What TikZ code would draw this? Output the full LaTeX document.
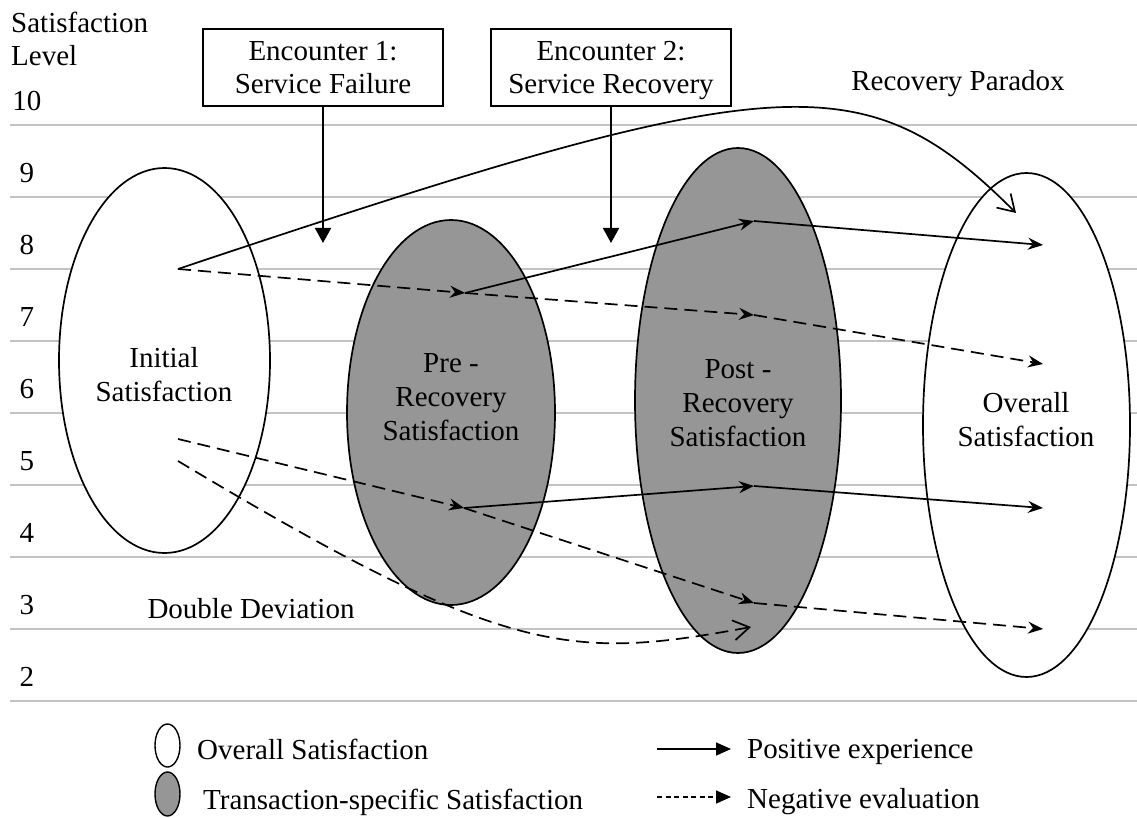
\documentclass[tikz,border=0pt]{standalone}
\usepackage{fontspec}
\setmainfont{Liberation Serif}
\usetikzlibrary{shapes.geometric,arrows.meta}
\definecolor{gridgray}{RGB}{195,195,195}
\definecolor{ellgray}{RGB}{150,150,150}
\begin{document}
\begin{tikzpicture}[x=1pt,y=-1pt,
  txt/.style={font=\fontsize{29}{34}\selectfont, inner sep=0pt, align=center},
  gridline/.style={draw=gridgray, line width=2.2pt},
  ell/.style={ellipse, draw, line width=1.7pt, inner sep=0pt},
  whiteell/.style={ell, fill=white},
  grayell/.style={ell, fill=ellgray},
  encbox/.style={draw, line width=1.7pt, minimum width=240pt, minimum height=77pt, inner sep=0pt, align=center, font=\fontsize{29}{33}\selectfont},
  posarrow/.style={line width=1.7pt, -{Stealth[length=15pt,width=12pt,inset=5pt]}},
  negarrow/.style={posarrow, dash pattern=on 13pt off 7pt},
  barbarrow/.style={line width=1.7pt, -{Straight Barb[length=16pt,width=20pt,line width=1.7pt]}},
  downarrow/.style={line width=1.7pt, -{Triangle[length=15pt,width=16pt]}},
  legarrow/.style={line width=1.5pt, -{Triangle[length=15pt,width=13pt]}},
]
\useasboundingbox (0,0) rectangle (1137,818);
% level lines
\foreach \i in {0,...,8} { \draw[gridline] (10,{125+72*\i}) -- (1137,{125+72*\i}); }
% level numbers
\foreach \v in {2,...,10} { \node[txt, anchor=base] (lev\v) at (27,{125+72*(10-\v)-14.5}) {\v}; }
\node[txt, anchor=base west] (ylab1) at (11,33) {Satisfaction};
\node[txt, anchor=base west] (ylab2) at (11,66) {Level};

% encounter boxes
\node[encbox] (enc1) at (323,67.5) {Encounter 1:\\\smash{Service Failure}};
\node[encbox] (enc2) at (611,67.5) {Encounter 2:\\\smash{Service Recovery}};
\coordinate (enc1tip) at (323,243);
\coordinate (enc2tip) at (611,243);

% ellipses
\node[whiteell, minimum width=211pt, minimum height=385pt] (init) at (164.5,360.5) {};
\node[grayell, minimum width=208pt, minimum height=385pt] (pre) at (451,412.5) {};
\node[grayell, minimum width=206pt, minimum height=505pt] (post) at (738,400.5) {};
\node[whiteell, minimum width=207pt, minimum height=504pt] (overall) at (1026.5,425) {};

\node[txt] (initT) at (164,374.5) {Initial\\Satisfaction};
\node[txt] (preT) at (451,397) {Pre -\\Recovery\\Satisfaction};
\node[txt] (postT) at (738,403) {Post -\\Recovery\\Satisfaction};
\node[txt] (overallT) at (1026,420) {Overall\\Satisfaction};

\draw[downarrow] (enc1.south) -- (enc1tip);
\draw[downarrow] (enc2.south) -- (enc2tip);

% points
\coordinate (i1) at (178,269);
\coordinate (i2) at (178,439);
\coordinate (i3) at (178,461);
\coordinate (p1) at (465,293);
\coordinate (p2) at (464,508);
\coordinate (q1) at (754,221);
\coordinate (q2) at (754,315);
\coordinate (q3) at (754,486);
\coordinate (q4) at (754,603);
\coordinate (r1) at (1043,245);
\coordinate (r2) at (1043,364);
\coordinate (r3) at (1043,508);
\coordinate (r4) at (1043,629);
\coordinate (rp) at (1016,213);
\coordinate (dd) at (751,627);

\draw[negarrow] (i1) -- (p1);
\draw[posarrow] (p1) -- (q1);
\draw[negarrow] (p1) -- (q2);
\draw[posarrow] (q1) -- (r1);
\draw[negarrow] (q2) -- (r2);
\draw[negarrow] (i2) -- (p2);
\draw[posarrow] (p2) -- (q3);
\draw[negarrow] (p2) -- (q4);
\draw[posarrow] (q3) -- (r3);
\draw[negarrow] (q4) -- (r4);
\draw[barbarrow] (i1) .. controls (778,68) and (863,60) .. (rp);
\draw[barbarrow, dash pattern=on 13pt off 7pt] (i3) .. controls (508,659) and (571,660) .. (dd);

\node[txt, anchor=base] (rpT) at (958,91) {Recovery Paradox};
\node[txt, anchor=base] (ddT) at (251,618) {Double Deviation};

% legend
\node[whiteell, minimum width=25pt, minimum height=43pt, line width=1.4pt] (legW) at (167.5,745.5) {};
\node[grayell, minimum width=25pt, minimum height=44pt, line width=1.4pt] (legG) at (167.5,794) {};
\node[txt, anchor=base west] (legWT) at (197,759) {Overall Satisfaction};
\node[txt, anchor=base west] (legGT) at (203,809) {Transaction-specific Satisfaction};
\coordinate (lp0) at (657,749);
\coordinate (lp1) at (731,749);
\coordinate (ln0) at (657,797);
\coordinate (ln1) at (731,797);
\draw[legarrow] (lp0) -- (lp1);
\draw[legarrow, dash pattern=on 5pt off 3.5pt] (ln0) -- (ln1);
\node[txt, anchor=base west] (legPT) at (747,758) {Positive experience};
\node[txt, anchor=base west] (legNT) at (747,808) {Negative evaluation};
\end{tikzpicture}
\end{document}
